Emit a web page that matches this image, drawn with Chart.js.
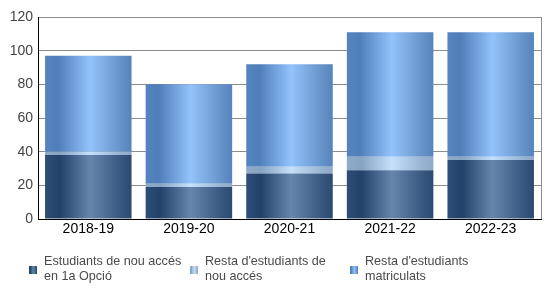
<!DOCTYPE html>
<html>
<head>
<meta charset="utf-8">
<script src="https://cdn.jsdelivr.net/npm/chart.js@4/dist/chart.umd.min.js"></script>
<style>
  html, body { margin: 0; padding: 0; background: #fff; }
  #wrap { position: relative; width: 550px; height: 305px; }
  canvas { position: absolute; left: 0; top: 0; }
  .leg { position: absolute; top: 254px; font: 12.6px "Liberation Sans", Arial, sans-serif; color: #4a4a4a; line-height: 15px; }
  .leg .box { position: absolute; left: 0; top: 12px; width: 8px; height: 8px; }
  .leg .txt { position: absolute; left: 15px; top: 0; white-space: nowrap; }
</style>
</head>
<body>
<div id="wrap">
  <canvas id="c" width="550" height="305"></canvas>
  <div id="legend"></div>
</div>
<script>
const categories = ["2018-19", "2019-20", "2020-21", "2021-22", "2022-23"];
const firstChoice = [38, 19, 27, 29, 35];
const otherNew = [2, 2, 4, 8, 2];
const restEnrolled = [57, 59, 61, 74, 74];
const seriesNames = [
  ["Estudiants de nou accés", "en 1a Opció"],
  ["Resta d'estudiants de", "nou accés"],
  ["Resta d'estudiants", "matriculats"]
];
const yTicks = [0, 20, 40, 60, 80, 100, 120];

const gradStops = [
  [[0, "#2e4d77"], [0.17, "#23426a"], [0.52, "#6786ac"], [0.88, "#375780"], [1, "#2c4a72"]],
  [[0, "#8fabc9"], [0.17, "#87a4c3"], [0.52, "#c6e0fa"], [0.88, "#97b3d1"], [1, "#8eaac8"]],
  [[0, "#5684bf"], [0.15, "#4f7eb9"], [0.52, "#93c3fb"], [0.88, "#6692c8"], [1, "#5683bd"]]
];
const solid = ["#34557f", "#a5c0dd", "#6d9cd6"];

function makeGrad(ctx, x0, x1, stops) {
  const g = ctx.createLinearGradient(x0, 0, x1, 0);
  stops.forEach(s => g.addColorStop(s[0], s[1]));
  return g;
}

const gradientPlugin = {
  id: "barGradient",
  beforeDatasetsDraw(chart) {
    const ctx = chart.ctx;
    chart.data.datasets.forEach((ds, di) => {
      const meta = chart.getDatasetMeta(di);
      meta.data.forEach(el => {
        const p = el.getProps(["x", "width"], true);
        el.options.backgroundColor = makeGrad(ctx, p.x - p.width / 2, p.x + p.width / 2, gradStops[di]);
      });
    });
  }
};

const framePlugin = {
  id: "frame",
  afterDraw(chart) {
    const a = chart.chartArea, ctx = chart.ctx;
    ctx.save();
    ctx.strokeStyle = "#8c8c8c";
    ctx.lineWidth = 1;
    ctx.beginPath();
    ctx.moveTo(Math.round(a.right) + 0.5, a.top);
    ctx.lineTo(Math.round(a.right) + 0.5, a.bottom);
    ctx.stroke();
    ctx.restore();
  }
};

const values = [firstChoice, otherNew, restEnrolled];
new Chart(document.getElementById("c"), {
  type: "bar",
  data: {
    labels: categories,
    datasets: values.map((v, i) => ({
      label: seriesNames[i].join(" "),
      data: v,
      backgroundColor: () => solid[i],
      borderWidth: 0,
      categoryPercentage: 1,
      barPercentage: 0.86
    }))
  },
  plugins: [gradientPlugin, framePlugin],
  options: {
    responsive: false,
    animation: false,
    layout: { padding: { top: 17, right: 9, bottom: 64, left: 0 } },
    plugins: { legend: { display: false }, tooltip: { enabled: false } },
    scales: {
      x: {
        stacked: true,
        grid: { display: false, drawTicks: false },
        border: { display: true, color: "#000", width: 1 },
        ticks: { color: "#000", font: { family: "'Liberation Sans', Arial, sans-serif", size: 14 }, padding: 2 },
        afterFit(s) { s.height = 22; }
      },
      y: {
        stacked: true,
        min: 0, max: 120,
        z: 1,
        afterBuildTicks(s) { s.ticks = yTicks.map(v => ({ value: v })); },
        grid: { color: "rgba(0,0,0,0.45)", drawTicks: false },
        border: { display: true, color: "#000", width: 1 },
        ticks: { color: "#444", font: { family: "'Liberation Sans', Arial, sans-serif", size: 14 }, padding: 5 },
        afterFit(s) { s.width = 38; }
      }
    }
  }
});

const legend = document.getElementById("legend");
const legX = [29, 190, 350];
seriesNames.forEach((lines, i) => {
  const d = document.createElement("div");
  d.className = "leg";
  d.style.left = legX[i] + "px";
  const b = document.createElement("div");
  b.className = "box";
  b.style.background = "linear-gradient(to right," + gradStops[i].map(s => s[1] + " " + (s[0] * 100) + "%").join(",") + ")";
  const t = document.createElement("div");
  t.className = "txt";
  t.innerHTML = lines.join("<br>");
  d.appendChild(b); d.appendChild(t);
  legend.appendChild(d);
});
</script>
</body>
</html>
